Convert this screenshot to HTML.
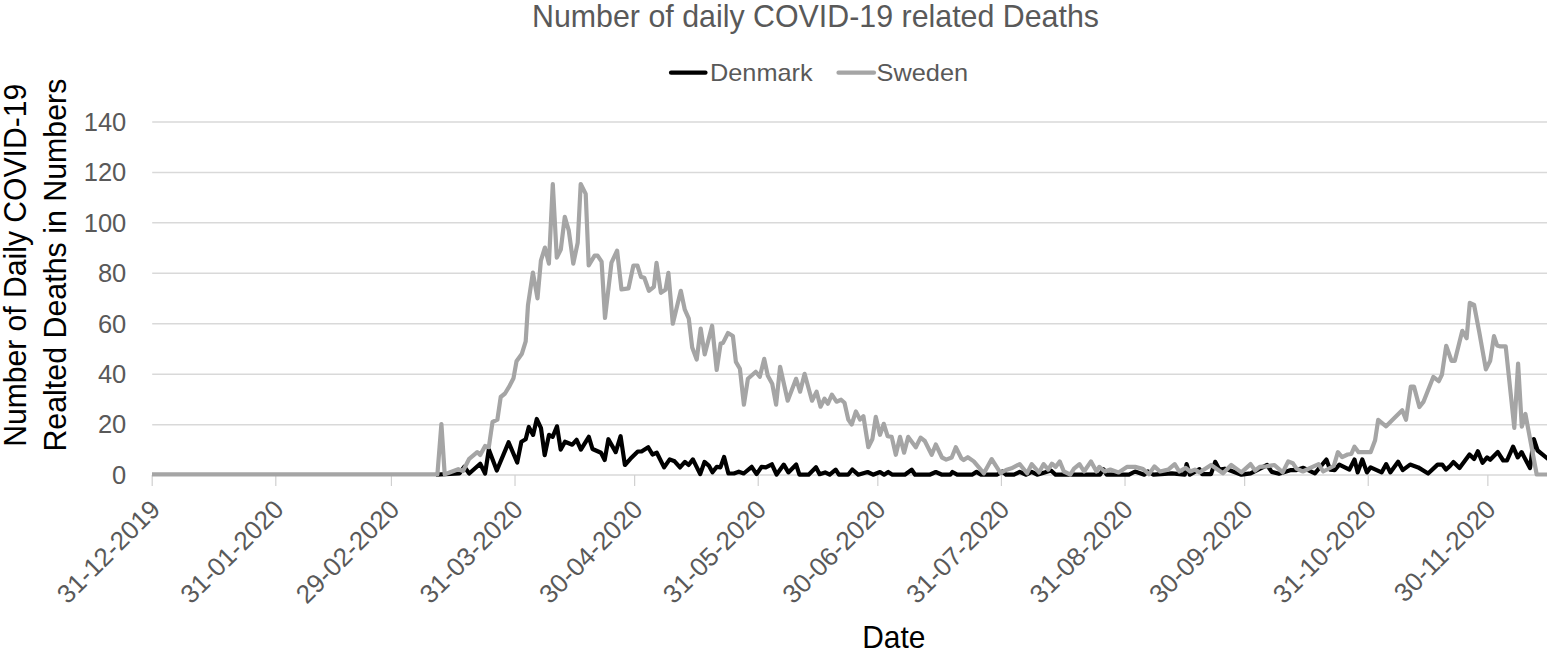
<!DOCTYPE html>
<html><head><meta charset="utf-8"><style>
html,body{margin:0;padding:0;background:#fff;}
svg{display:block;}
text{font-family:"Liberation Sans",sans-serif;}
</style></head><body>
<svg width="1547" height="653" viewBox="0 0 1547 653">
<rect width="1547" height="653" fill="#fff"/>
<text x="532" y="27.1" font-size="30.5" fill="#595959" textLength="567" lengthAdjust="spacingAndGlyphs">Number of daily COVID-19 related Deaths</text>
<line x1="671" y1="72.7" x2="705.5" y2="72.7" stroke="#000" stroke-width="4.2" stroke-linecap="round"/>
<text x="710" y="80.5" font-size="24" fill="#595959" textLength="102.6" lengthAdjust="spacingAndGlyphs">Denmark</text>
<line x1="838.5" y1="72.7" x2="874" y2="72.7" stroke="#a5a5a5" stroke-width="4.2" stroke-linecap="round"/>
<text x="876.5" y="80.5" font-size="24" fill="#595959" textLength="91.6" lengthAdjust="spacingAndGlyphs">Sweden</text>
<text transform="translate(25.5,446.8) rotate(-90)" font-size="30.5" fill="#000" textLength="363" lengthAdjust="spacingAndGlyphs">Number of Daily COVID-19</text>
<text transform="translate(65.7,451.6) rotate(-90)" font-size="30.5" fill="#000" textLength="373" lengthAdjust="spacingAndGlyphs">Realted Deaths in Numbers</text>
<text x="862.2" y="648" font-size="30.5" fill="#000" textLength="63.2" lengthAdjust="spacingAndGlyphs">Date</text>
<text x="126.3" y="483.90" font-size="25.5" fill="#595959" text-anchor="end">0</text>
<line x1="152.2" y1="424.65" x2="1547" y2="424.65" stroke="#d9d9d9" stroke-width="1.5"/>
<text x="126.3" y="433.45" font-size="25.5" fill="#595959" text-anchor="end">20</text>
<line x1="152.2" y1="374.20" x2="1547" y2="374.20" stroke="#d9d9d9" stroke-width="1.5"/>
<text x="126.3" y="383.00" font-size="25.5" fill="#595959" text-anchor="end">40</text>
<line x1="152.2" y1="323.74" x2="1547" y2="323.74" stroke="#d9d9d9" stroke-width="1.5"/>
<text x="126.3" y="332.54" font-size="25.5" fill="#595959" text-anchor="end">60</text>
<line x1="152.2" y1="273.29" x2="1547" y2="273.29" stroke="#d9d9d9" stroke-width="1.5"/>
<text x="126.3" y="282.09" font-size="25.5" fill="#595959" text-anchor="end">80</text>
<line x1="152.2" y1="222.84" x2="1547" y2="222.84" stroke="#d9d9d9" stroke-width="1.5"/>
<text x="126.3" y="231.64" font-size="25.5" fill="#595959" text-anchor="end">100</text>
<line x1="152.2" y1="172.39" x2="1547" y2="172.39" stroke="#d9d9d9" stroke-width="1.5"/>
<text x="126.3" y="181.19" font-size="25.5" fill="#595959" text-anchor="end">120</text>
<line x1="152.2" y1="121.94" x2="1547" y2="121.94" stroke="#d9d9d9" stroke-width="1.5"/>
<text x="126.3" y="130.74" font-size="25.5" fill="#595959" text-anchor="end">140</text>
<line x1="152.2" y1="475.10" x2="1547" y2="475.10" stroke="#d9d9d9" stroke-width="1.5"/>
<line x1="152.20" y1="475.1" x2="152.20" y2="486" stroke="#d0d0d0" stroke-width="1.2"/>
<text transform="translate(161.70,510.90) rotate(-45)" font-size="26" fill="#595959" text-anchor="end">31-12-2019</text>
<line x1="275.80" y1="475.1" x2="275.80" y2="486" stroke="#d0d0d0" stroke-width="1.2"/>
<text transform="translate(285.30,510.90) rotate(-45)" font-size="26" fill="#595959" text-anchor="end">31-01-2020</text>
<line x1="391.42" y1="475.1" x2="391.42" y2="486" stroke="#d0d0d0" stroke-width="1.2"/>
<text transform="translate(400.92,510.90) rotate(-45)" font-size="26" fill="#595959" text-anchor="end">29-02-2020</text>
<line x1="515.02" y1="475.1" x2="515.02" y2="486" stroke="#d0d0d0" stroke-width="1.2"/>
<text transform="translate(524.52,510.90) rotate(-45)" font-size="26" fill="#595959" text-anchor="end">31-03-2020</text>
<line x1="634.63" y1="475.1" x2="634.63" y2="486" stroke="#d0d0d0" stroke-width="1.2"/>
<text transform="translate(644.13,510.90) rotate(-45)" font-size="26" fill="#595959" text-anchor="end">30-04-2020</text>
<line x1="758.22" y1="475.1" x2="758.22" y2="486" stroke="#d0d0d0" stroke-width="1.2"/>
<text transform="translate(767.72,510.90) rotate(-45)" font-size="26" fill="#595959" text-anchor="end">31-05-2020</text>
<line x1="877.83" y1="475.1" x2="877.83" y2="486" stroke="#d0d0d0" stroke-width="1.2"/>
<text transform="translate(887.33,510.90) rotate(-45)" font-size="26" fill="#595959" text-anchor="end">30-06-2020</text>
<line x1="1001.43" y1="475.1" x2="1001.43" y2="486" stroke="#d0d0d0" stroke-width="1.2"/>
<text transform="translate(1010.93,510.90) rotate(-45)" font-size="26" fill="#595959" text-anchor="end">31-07-2020</text>
<line x1="1125.03" y1="475.1" x2="1125.03" y2="486" stroke="#d0d0d0" stroke-width="1.2"/>
<text transform="translate(1134.53,510.90) rotate(-45)" font-size="26" fill="#595959" text-anchor="end">31-08-2020</text>
<line x1="1244.64" y1="475.1" x2="1244.64" y2="486" stroke="#d0d0d0" stroke-width="1.2"/>
<text transform="translate(1254.14,510.90) rotate(-45)" font-size="26" fill="#595959" text-anchor="end">30-09-2020</text>
<line x1="1368.24" y1="475.1" x2="1368.24" y2="486" stroke="#d0d0d0" stroke-width="1.2"/>
<text transform="translate(1377.74,510.90) rotate(-45)" font-size="26" fill="#595959" text-anchor="end">31-10-2020</text>
<line x1="1487.85" y1="475.1" x2="1487.85" y2="486" stroke="#d0d0d0" stroke-width="1.2"/>
<text transform="translate(1497.35,510.90) rotate(-45)" font-size="26" fill="#595959" text-anchor="end">30-11-2020</text>
<path d="M436.0,474.6 L459.4,473.5 L464.3,466.8 L469.2,473.5 L480.2,463.7 L485.1,473.5 L488.8,449.6 L496.8,470.5 L508.6,442.3 L517.2,462.5 L521.4,441.7 L525.7,439.2 L528.8,427.0 L533.1,434.9 L536.8,419.0 L541.0,428.2 L544.7,455.1 L549.0,434.9 L552.7,436.8 L557.0,426.3 L560.7,449.6 L565.0,441.7 L572.3,444.7 L576.6,439.8 L580.9,449.6 L588.8,436.8 L592.5,449.0 L601.0,452.7 L604.7,460.0 L608.4,439.2 L615.7,452.1 L620.6,436.2 L624.9,465.0 L630.4,458.8 L637.8,451.5 L641.5,451.5 L648.2,447.2 L652.5,454.5 L656.8,452.7 L664.1,467.4 L669.7,459.4 L674.6,461.3 L680.0,467.4 L684.9,461.9 L688.6,465.0 L692.9,459.4 L700.2,474.1 L704.5,461.9 L708.8,465.6 L712.5,472.3 L716.8,466.8 L720.4,467.4 L724.1,457.0 L728.4,473.5 L733.9,473.5 L738.8,471.7 L743.7,473.5 L751.7,466.8 L756.6,474.1 L761.5,466.8 L765.8,467.4 L771.9,464.3 L776.6,474.5 L783.8,464.6 L788.4,472.4 L796.2,464.6 L799.4,474.7 L808.6,474.7 L816.0,467.3 L819.6,474.2 L825.1,472.4 L829.7,474.7 L835.7,469.6 L838.9,474.7 L848.1,474.7 L852.3,469.5 L858.2,474.7 L867.6,472.0 L873.1,474.7 L880.0,472.0 L884.1,474.7 L888.2,472.0 L892.4,474.7 L904.8,474.7 L911.7,469.7 L915.1,474.7 L929.6,474.7 L935.8,472.0 L942.0,474.7 L950.3,474.7 L952.4,472.0 L957.2,474.7 L972.0,474.7 L976.5,471.9 L981.1,474.7 L996.8,474.7 L1002.3,471.5 L1006.0,474.7 L1014.0,474.7 L1019.7,471.9 L1026.2,474.7 L1031.7,471.9 L1037.2,474.7 L1044.6,472.5 L1051.0,470.5 L1055.6,474.7 L1100.0,474.7 L1103.4,469.2 L1106.7,474.7 L1129.0,474.7 L1135.1,471.5 L1144.3,474.7 L1148.0,471.5 L1153.5,474.7 L1171.9,473.3 L1184.8,474.7 L1186.6,464.1 L1189.8,474.7 L1199.5,469.2 L1202.2,474.2 L1211.0,474.2 L1215.2,461.8 L1219.3,469.6 L1224.8,468.7 L1230.3,470.5 L1241.4,474.7 L1250.6,473.3 L1267.1,465.0 L1271.7,471.9 L1279.0,473.8 L1291.0,470.1 L1296.5,470.1 L1303.4,467.8 L1314.9,473.3 L1326.4,459.5 L1330.1,469.6 L1334.7,470.1 L1339.3,464.6 L1349.4,469.6 L1354.5,459.5 L1357.7,472.4 L1362.3,459.5 L1366.9,472.4 L1370.6,467.3 L1381.6,472.4 L1386.2,464.1 L1390.3,472.4 L1398.1,461.8 L1402.7,470.1 L1410.1,464.6 L1418.2,467.4 L1428.1,473.5 L1437.6,464.6 L1442.2,464.6 L1445.9,469.6 L1450.0,466.0 L1453.4,462.0 L1459.5,468.1 L1469.5,454.4 L1474.1,459.0 L1477.9,451.3 L1482.5,462.8 L1487.1,457.4 L1490.2,459.7 L1497.8,452.1 L1503.2,460.5 L1507.0,460.5 L1513.1,446.7 L1517.7,457.4 L1521.6,452.1 L1530.0,468.1 L1533.8,439.0 L1537.6,450.5 L1550.0,460.5" fill="none" stroke="#000" stroke-width="4.2" stroke-linejoin="round" stroke-linecap="butt"/>
<path d="M152.0,474.4 L437.4,474.4 L441.4,424.0 L444.7,474.4 L449.6,472.5 L458.2,469.2 L463.0,471.0 L469.2,458.8 L477.2,452.1 L480.2,455.1 L485.1,446.0 L488.8,447.2 L492.5,422.0 L497.4,419.6 L500.7,397.0 L505.0,393.5 L509.6,385.8 L513.5,378.2 L516.5,361.3 L521.9,353.7 L525.7,341.4 L528.0,305.0 L532.9,272.5 L537.5,298.4 L540.9,260.6 L544.9,247.6 L548.9,263.6 L552.8,184.0 L556.8,257.6 L560.8,249.6 L564.8,216.8 L568.8,230.7 L573.3,263.6 L577.7,242.7 L580.7,184.0 L585.7,193.9 L588.7,265.5 L594.6,255.6 L597.6,255.6 L601.6,261.6 L605.0,318.0 L611.5,262.6 L617.1,250.6 L621.5,289.4 L628.5,288.4 L633.4,265.5 L637.4,265.5 L641.0,276.9 L644.3,277.8 L648.9,290.8 L653.9,286.8 L656.5,262.9 L660.9,292.8 L665.5,289.8 L668.4,272.9 L672.8,323.7 L680.8,290.8 L684.8,309.7 L688.8,318.7 L692.2,347.6 L696.7,359.5 L700.7,328.6 L704.7,354.5 L712.1,325.7 L716.7,370.0 L720.6,343.6 L723.0,342.9 L728.0,333.0 L732.9,336.0 L735.9,361.9 L739.9,368.8 L743.9,404.7 L747.9,378.8 L755.8,371.8 L759.8,376.8 L764.2,358.9 L767.8,375.8 L772.2,383.7 L776.1,404.7 L780.1,366.8 L787.7,400.7 L796.1,378.8 L800.1,391.7 L804.6,373.8 L812.0,400.7 L816.6,391.7 L820.5,406.7 L824.5,398.7 L827.9,403.7 L831.9,394.7 L836.5,401.7 L841.1,399.7 L844.5,402.7 L848.3,419.6 L851.7,424.5 L855.9,411.4 L860.0,419.6 L863.4,416.2 L868.3,447.2 L872.4,439.0 L875.8,416.9 L880.0,434.8 L883.8,423.8 L887.6,436.2 L891.7,436.9 L895.8,454.8 L900.0,436.9 L904.1,452.7 L908.2,436.9 L915.8,447.2 L920.6,437.6 L924.8,441.0 L931.7,454.8 L935.8,444.5 L942.0,457.5 L946.2,459.6 L951.7,457.5 L955.8,447.2 L961.3,458.2 L963.7,460.0 L967.8,457.2 L973.8,461.4 L983.9,473.3 L991.7,459.1 L1000.4,472.8 L1006.0,470.1 L1011.5,468.3 L1019.7,464.1 L1027.1,473.3 L1031.7,464.1 L1039.0,472.4 L1043.6,464.1 L1048.2,469.6 L1051.9,463.7 L1055.6,466.9 L1059.7,461.4 L1063.9,471.5 L1070.3,474.7 L1074.0,468.7 L1079.5,464.1 L1084.1,471.5 L1091.0,461.4 L1096.5,471.5 L1099.3,466.9 L1104.8,471.5 L1110.3,469.6 L1118.6,472.4 L1126.9,466.9 L1135.1,466.9 L1142.5,468.7 L1148.9,474.2 L1154.4,466.4 L1160.0,471.5 L1168.2,469.6 L1174.7,464.1 L1179.3,471.5 L1185.7,467.8 L1190.3,471.5 L1194.9,469.6 L1199.5,472.4 L1211.0,465.0 L1223.0,473.3 L1231.2,465.0 L1241.4,472.4 L1250.6,464.1 L1255.1,470.5 L1259.7,466.9 L1266.2,466.4 L1274.4,465.0 L1282.7,472.4 L1288.2,461.4 L1292.8,463.2 L1296.5,468.7 L1302.9,471.5 L1310.3,467.8 L1318.6,464.1 L1323.2,471.5 L1333.8,466.0 L1337.9,452.2 L1342.1,457.2 L1347.6,454.5 L1351.3,454.0 L1354.5,446.7 L1358.6,452.2 L1370.6,452.2 L1375.1,440.2 L1378.2,419.8 L1386.1,426.3 L1393.6,418.8 L1402.2,410.2 L1406.0,419.8 L1410.8,386.6 L1414.0,386.6 L1419.4,407.0 L1423.6,401.6 L1433.3,376.9 L1438.7,381.2 L1441.9,374.8 L1446.2,345.8 L1451.5,360.8 L1454.8,360.8 L1462.3,330.8 L1466.6,338.3 L1469.8,302.9 L1474.1,305.0 L1479.4,332.9 L1485.9,369.4 L1490.2,360.8 L1494.0,336.1 L1497.1,345.4 L1500.3,346.4 L1505.7,346.4 L1514.3,427.8 L1518.1,363.6 L1521.8,426.7 L1525.4,413.9 L1536.7,474.5 L1550.0,474.5" fill="none" stroke="#a5a5a5" stroke-width="4.2" stroke-linejoin="round" stroke-linecap="butt"/>
</svg></body></html>
